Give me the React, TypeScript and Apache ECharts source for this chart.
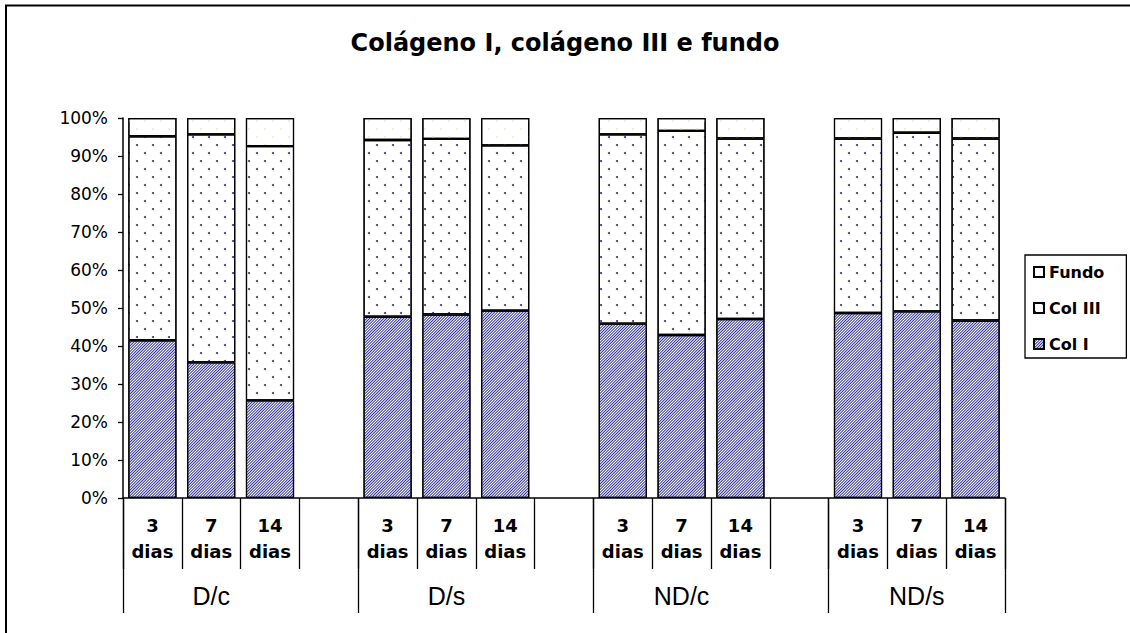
import React, { useEffect, useRef } from 'react';
import * as echarts from 'echarts';

// groups on the lower axis row, days on the upper row
const groupLabels = ['D/c', 'D/s', 'ND/c', 'ND/s'];
const dayLabels = ['3\ndias', '7\ndias', '14\ndias'];

// percentages, 3 bars per group (3, 7, 14 dias) in group order
const colI = [41.5, 35.7, 25.7, 47.7, 48.3, 49.3, 45.9, 42.9, 47.1, 48.7, 49.1, 46.7];
const colIII = [53.7, 60.0, 66.9, 46.5, 46.2, 43.5, 49.8, 53.7, 47.5, 45.9, 47.0, 47.9];
const fundo = [4.8, 4.3, 7.4, 5.8, 5.5, 7.2, 4.3, 3.4, 5.4, 5.4, 3.9, 5.4];

const legendOrder = ['Fundo', 'Col III', 'Col I'];

const wide = "'DejaVu Sans', sans-serif";
const plain = "'Liberation Sans', Arial, sans-serif";

// each group gets an empty slot after it, except the last one
const slots: string[] = [];
const groupSlots: string[] = [];
groupLabels.forEach((g, gi) => {
  dayLabels.forEach((d, di) => {
    slots.push(d);
    groupSlots.push(di === 1 ? g : '');
  });
  if (gi < groupLabels.length - 1) {
    slots.push('');
    groupSlots.push('');
  }
});

const spread = (vals: number[]) => {
  const out: (number | null)[] = [];
  vals.forEach((v, i) => {
    out.push(v);
    if (i % 3 === 2 && i < vals.length - 1) out.push(null);
  });
  return out;
};

const border = { borderColor: '#000', borderWidth: 1.2 };

const App: React.FC = () => {
  const chartRef = useRef<HTMLDivElement | null>(null);

  useEffect(() => {
    if (!chartRef.current) return;
    const chart = echarts.init(chartRef.current, undefined, { renderer: 'svg' });

    const option = {
      animation: false,
      backgroundColor: '#ffffff',
      title: {
        text: 'Colágeno I, colágeno III e fundo',
        left: 'center',
        top: 26,
        textStyle: { fontFamily: wide, fontSize: 24, fontWeight: 'bold', color: '#000' },
      },
      legend: {
        orient: 'vertical',
        left: 1025,
        top: 255,
        data: legendOrder,
        icon: 'rect',
        itemWidth: 10,
        itemHeight: 10,
        itemGap: 18,
        itemTextGap: 7,
        padding: [8, 22, 5, 8],
        borderColor: '#000',
        borderWidth: 1.3,
        textStyle: { fontFamily: wide, fontSize: 16, fontWeight: 'bold', color: '#000', lineHeight: 18 },
      },
      grid: { left: 123, right: 125, top: 118, bottom: 135 },
      xAxis: [
        {
          type: 'category',
          data: slots,
          position: 'bottom',
          axisLine: { lineStyle: { color: '#000', width: 1.5 } },
          axisTick: { show: true, interval: 0, length: 71, lineStyle: { color: '#000', width: 1.3 } },
          axisLabel: {
            interval: 0,
            margin: 14,
            color: '#000',
            fontSize: 18,
            fontWeight: 'bold',
            lineHeight: 26,
            fontFamily: wide,
          },
        },
        {
          type: 'category',
          data: groupSlots,
          position: 'bottom',
          axisLine: { show: false },
          axisTick: {
            show: true,
            interval: (i: number) => i % 4 === 0,
            length: 115,
            lineStyle: { color: '#000', width: 1.3 },
          },
          axisLabel: { interval: 0, margin: 85, color: '#000', fontSize: 25, fontFamily: plain },
        },
      ],
      yAxis: {
        type: 'value',
        min: 0,
        max: 100,
        interval: 10,
        axisLine: { show: true, lineStyle: { color: '#000', width: 1.5 } },
        axisTick: { show: true, length: 5, lineStyle: { color: '#000', width: 1.3 } },
        splitLine: { show: false },
        axisLabel: { formatter: '{value}%', margin: 15, color: '#000', fontSize: 17, fontFamily: wide },
      },
      series: [
        {
          name: 'Col I',
          type: 'bar',
          stack: 'total',
          barWidth: '82%',
          data: spread(colI),
          itemStyle: {
            color: '#ffffff',
            ...border,
            decal: {
              symbol: 'rect',
              symbolSize: 1,
              color: '#34349c',
              dashArrayX: [1, 0],
              dashArrayY: [1, 1],
              rotation: -Math.PI / 4,
            },
          },
        },
        {
          name: 'Col III',
          type: 'bar',
          stack: 'total',
          data: spread(colIII),
          itemStyle: {
            color: '#ffffff',
            ...border,
            decal: {
              symbol: 'circle',
              symbolSize: 1,
              color: '#2a2a9a',
              dashArrayX: [[2, 14], [0, 8, 2, 6]],
              dashArrayY: [2, 6],
              rotation: 0,
            },
          },
        },
        {
          name: 'Fundo',
          type: 'bar',
          stack: 'total',
          data: spread(fundo),
          itemStyle: {
            color: '#ffffff',
            ...border,
            decal: {
              symbol: 'circle',
              symbolSize: 1,
              color: '#eeeebb',
              dashArrayX: [[2, 14], [0, 8, 2, 6]],
              dashArrayY: [2, 6],
              rotation: 0,
            },
          },
        },
      ],
      graphic: [
        {
          type: 'rect',
          silent: true,
          shape: { x: 6, y: 5.5, width: 1200, height: 700 },
          style: { fill: 'none', stroke: '#000', lineWidth: 2 },
        },
      ],
    };

    chart.setOption(option);
    return () => {
      chart.dispose();
    };
  }, []);

  return (
    <div
      ref={chartRef}
      style={{ position: 'absolute', left: 0, top: 0, width: '1130px', height: '633px', background: '#fff' }}
    />
  );
};

export default App;
